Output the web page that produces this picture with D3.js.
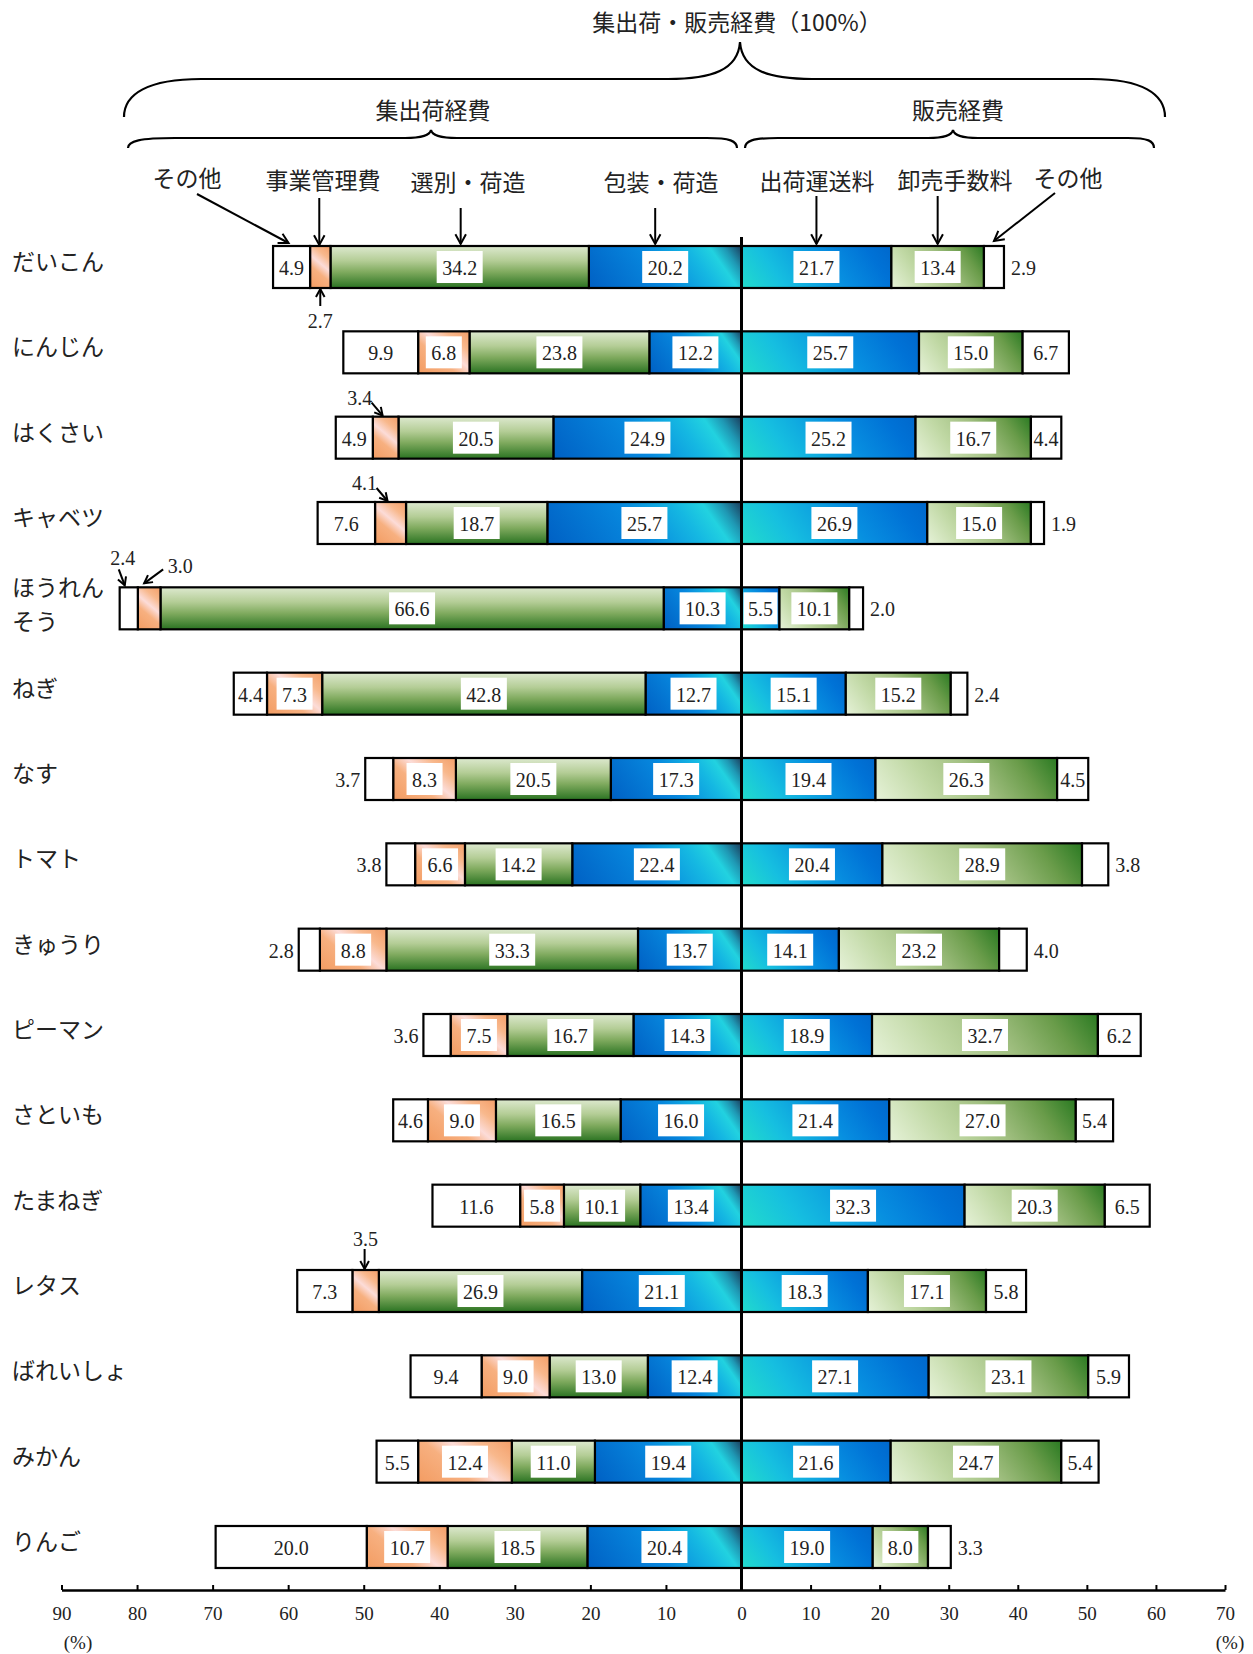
<!DOCTYPE html>
<html><head><meta charset="utf-8">
<script src="https://cdn.jsdelivr.net/npm/d3@7"></script>
<style>
body{margin:0;background:#fff}
svg{display:block}
</style></head><body>
<svg id="c" width="1253" height="1654"></svg>
<script>
// ---------------- data ----------------
const categories = ["だいこん","にんじん","はくさい","キャベツ","ほうれんそう","ねぎ","なす","トマト","きゅうり","ピーマン","さといも","たまねぎ","レタス","ばれいしょ","みかん","りんご"];
const categoryLines = {"ほうれんそう":["ほうれん","そう"]};
// 集出荷経費 (left side)
const leftOther  = [4.9,9.9,4.9,7.6,2.4,4.4,3.7,3.8,2.8,3.6,4.6,11.6,7.3,9.4,5.5,20.0];
const management = [2.7,6.8,3.4,4.1,3.0,7.3,8.3,6.6,8.8,7.5,9.0,5.8,3.5,9.0,12.4,10.7];
const sorting    = [34.2,23.8,20.5,18.7,66.6,42.8,20.5,14.2,33.3,16.7,16.5,10.1,26.9,13.0,11.0,18.5];
const packing    = [20.2,12.2,24.9,25.7,10.3,12.7,17.3,22.4,13.7,14.3,16.0,13.4,21.1,12.4,19.4,20.4];
// 販売経費 (right side)
const transport  = [21.7,25.7,25.2,26.9,5.5,15.1,19.4,20.4,14.1,18.9,21.4,32.3,18.3,27.1,21.6,19.0];
const commission = [13.4,15.0,16.7,15.0,10.1,15.2,26.3,28.9,23.2,32.7,27.0,20.3,17.1,23.1,24.7,8.0];
const rightOther = [2.9,6.7,4.4,1.9,2.0,2.4,4.5,3.8,4.0,6.2,5.4,6.5,5.8,5.9,5.4,3.3];

const leftTicks  = [0,10,20,30,40,50,60,70,80,90];
const rightTicks = [10,20,30,40,50,60,70];
const seriesNames = ["その他","事業管理費","選別・荷造","包装・荷造","出荷運送料","卸売手数料","その他"];
const groupNames = ["集出荷経費","販売経費"];
const titleText = "集出荷・販売経費（100%）";
const unitText = "(%)";

// where small values are labelled outside their segment
const labelPlacement = {
  "だいこん|1":"below", "だいこん|6":"right",
  "はくさい|1":"aboveLeft",
  "キャベツ|1":"aboveLeft", "キャベツ|6":"right",
  "ほうれんそう|0":"aboveTip", "ほうれんそう|1":"aboveRight", "ほうれんそう|6":"right",
  "ねぎ|6":"right",
  "なす|0":"left",
  "トマト|0":"left", "トマト|6":"right",
  "きゅうり|0":"left", "きゅうり|6":"right",
  "ピーマン|0":"left",
  "レタス|1":"above",
  "りんご|6":"right"
};

// ---------------- layout ----------------
const JP = "'Noto Sans CJK JP','Noto Sans CJK SC',sans-serif";
const NUM = "'Liberation Serif','DejaVu Serif',serif";
const svg = d3.select("#c");
const defs = svg.append("defs");

const zeroX = 741.5;
const xL = d3.scaleLinear().domain([0,90]).range([zeroX, 61.5]);
const xR = d3.scaleLinear().domain([0,70]).range([zeroX, 1225]);
const y = d3.scalePoint().domain(categories).range([267, 1547]);
const barH = 42;
const axisY = 1590;
const fmt = d3.format(".1f");

const seriesData = [leftOther, management, sorting, packing, transport, commission, rightOther];

// build segments
const segments = [];
categories.forEach((cat, i) => {
  const cy = y(cat), top = cy - barH/2;
  let acc = 0;
  [3,2,1,0].forEach(k => {
    const v = seriesData[k][i];
    const x0 = xL(acc + v), x1 = xL(acc);
    segments.push({cat, i, k, v, x: x0, w: x1 - x0, y: top, h: barH, cx: (x0+x1)/2, cy});
    acc += v;
  });
  acc = 0;
  [4,5,6].forEach(k => {
    const v = seriesData[k][i];
    const x0 = xR(acc), x1 = xR(acc + v);
    segments.push({cat, i, k, v, x: x0, w: x1 - x0, y: top, h: barH, cx: (x0+x1)/2, cy});
    acc += v;
  });
});

// gradients
const gradStops = {
  1: [[0,"#f39c62"],[0.38,"#f7b080"],[0.56,"#fcdcd8"],[0.76,"#f8b88c"],[1,"#f39e68"]],
  2: [[0,"#dde9cf"],[0.35,"#b4cd96"],[0.62,"#7faa5e"],[1,"#2a7322"]],
  3: [[0,"#0060c4"],[0.45,"#0788de"],[0.7,"#15b8e2"],[0.82,"#22d2e0"],[0.9,"#1f98b4"],[1,"#1b3a5a"]],
  4: [[0,"#22dccb"],[0.25,"#16bfe0"],[0.6,"#078ee0"],[0.85,"#0072d6"],[1,"#0068cc"]],
  5: [[0,"#e6f2d8"],[0.3,"#c0d8a4"],[0.55,"#a2c082"],[0.8,"#6a9c4a"],[1,"#2a7a22"]]
};
function makeGrad(id, s) {
  const g = defs.append("linearGradient").attr("id", id).attr("gradientUnits","userSpaceOnUse");
  if (s.k === 2) {
    g.attr("x1", s.x).attr("y1", s.y).attr("x2", s.x).attr("y2", s.y + s.h);
  } else {
    const th = (s.k === 1 ? 50 : 35) * Math.PI/180, c = Math.cos(th), sn = Math.sin(th);
    const L = s.w*c + s.h*sn;
    g.attr("x1", s.x).attr("y1", s.y + s.h).attr("x2", s.x + L*c).attr("y2", s.y + s.h - L*sn);
  }
  gradStops[s.k].forEach(([o,col]) => g.append("stop").attr("offset", o).attr("stop-color", col));
}

const gBars = svg.append("g");
segments.forEach((s, j) => {
  let fill = "#fff";
  if (s.k >= 1 && s.k <= 5) { const id = "gr" + j; makeGrad(id, s); fill = `url(#${id})`; }
  gBars.append("rect")
    .attr("x", s.x).attr("y", s.y).attr("width", s.w).attr("height", s.h)
    .attr("fill", fill).attr("stroke", "#000").attr("stroke-width", 2.2);
});

// centre line
svg.append("line").attr("x1", zeroX).attr("x2", zeroX).attr("y1", 237).attr("y2", axisY)
  .attr("stroke", "#000").attr("stroke-width", 3);

// arrows
function arrow(g, x0, y0, x1, y1, size = 9) {
  g.append("line").attr("x1", x0).attr("y1", y0).attr("x2", x1).attr("y2", y1)
    .attr("stroke", "#000").attr("stroke-width", 2);
  const a = Math.atan2(y1 - y0, x1 - x0), sp = 0.5;
  const p1 = [x1 - size*Math.cos(a - sp), y1 - size*Math.sin(a - sp)];
  const p2 = [x1 - size*Math.cos(a + sp), y1 - size*Math.sin(a + sp)];
  g.append("path").attr("d", `M${p1[0]},${p1[1]}L${x1},${y1}L${p2[0]},${p2[1]}`)
    .attr("fill", "none").attr("stroke", "#000").attr("stroke-width", 2);
}

// value labels
const gLab = svg.append("g");
function numText(x, yy, txt, anchor = "middle") {
  return gLab.append("text").attr("x", x).attr("y", yy).attr("text-anchor", anchor)
    .attr("dominant-baseline", "central")
    .attr("font-family", NUM).attr("font-size", 20).attr("fill", "#222").text(txt);
}
segments.forEach(s => {
  const mode = labelPlacement[s.cat + "|" + s.k] || "inside";
  const txt = fmt(s.v);
  const top = s.y, bot = s.y + s.h;
  if (mode === "inside") {
    if (s.k !== 0 && s.k !== 6) {
      const t = numText(s.cx, s.cy + 1, txt);
      const tw = t.node().getComputedTextLength();
      const bw = Math.min(tw + 11, s.w - 4);
      gLab.insert("rect", () => t.node()).attr("x", s.cx - bw/2).attr("y", s.cy - 16)
        .attr("width", bw).attr("height", 32).attr("fill", "#fff");
    } else {
      numText(s.cx, s.cy + 1, txt);
    }
  } else if (mode === "right") {
    numText(s.x + s.w + 7, s.cy + 1, txt, "start");
  } else if (mode === "left") {
    numText(s.x - 5, s.cy + 1, txt, "end");
  } else if (mode === "below") {
    arrow(gLab, s.cx, bot + 18, s.cx, bot + 1);
    numText(s.cx, bot + 33, txt);
  } else if (mode === "aboveLeft") {
    arrow(gLab, s.cx - 14, top - 14, s.cx - 3, top - 1);
    numText(s.cx - 26, top - 19, txt);
  } else if (mode === "aboveTip") {
    arrow(gLab, s.cx - 10, top - 18, s.cx - 4, top - 2);
    numText(s.cx - 6, top - 29, txt);
  } else if (mode === "aboveRight") {
    arrow(gLab, s.cx + 14, top - 18, s.cx - 5, top - 4);
    numText(s.cx + 31, top - 21, txt);
  } else if (mode === "above") {
    arrow(gLab, s.cx - 1, top - 21, s.cx - 1, top - 1);
    numText(s.cx, top - 31, txt);
  }
});

// category labels
const gCat = svg.append("g");
categories.forEach(cat => {
  const cy = y(cat);
  const lines = categoryLines[cat];
  if (lines) {
    gCat.append("text").attr("x", 12).attr("y", cy - 22).attr("dominant-baseline","central")
      .attr("font-family", JP).attr("font-size", 23).attr("fill", "#222").text(lines[0]);
    gCat.append("text").attr("x", 12).attr("y", cy + 12).attr("dominant-baseline","central")
      .attr("font-family", JP).attr("font-size", 23).attr("fill", "#222").text(lines[1]);
  } else {
    gCat.append("text").attr("x", 12).attr("y", cy - 7).attr("dominant-baseline","central")
      .attr("font-family", JP).attr("font-size", 23).attr("fill", "#222").text(cat);
  }
});

// ---------------- header ----------------
const gH = svg.append("g");
function jpText(x, yy, txt, size = 23) {
  return gH.append("text").attr("x", x).attr("y", yy).attr("text-anchor","middle")
    .attr("dominant-baseline","central").attr("font-family", JP).attr("font-size", size)
    .attr("fill", "#222").text(txt);
}
jpText(737, 21, titleText);
jpText(433, 109, groupNames[0]);
jpText(958, 109, groupNames[1]);

const braces = [
  "M124,117 C124,94 148,79 201,79 L668,79 C712,79 738,70 740,42 C742,70 768,79 812,79 L1092,79 C1142,79 1165,94 1165,117",
  "M128,148 C128,141 140,138 175,138 L405,138 C422,138 430,135 431,130 C432,135 440,138 457,138 L707,138 C730,138 737,141 737,148",
  "M745,148 C745,141 752,138 778,138 L928,138 C945,138 952,135 953,130 C954,135 961,138 978,138 L1128,138 C1148,138 1154,141 1154,148"
];
braces.forEach(d => gH.append("path").attr("d", d).attr("fill","none").attr("stroke","#000").attr("stroke-width", 2.2));

// series labels with arrows to the first row
const first = segments.filter(s => s.i === 0);
const segOf = k => first.find(s => s.k === k);
const headerLabels = [
  {k:0, x:187, y:177},
  {k:1, x:323, y:179},
  {k:2, x:468, y:181},
  {k:3, x:661, y:181},
  {k:4, x:817, y:180},
  {k:5, x:955, y:179},
  {k:6, x:1068, y:177}
];
headerLabels.forEach(h => jpText(h.x, h.y, seriesNames[h.k]));
const t0 = segOf(0).y;
arrow(gH, 197, 194, segOf(0).cx - 3, t0 - 3, 11);
arrow(gH, segOf(1).cx - 1, 198, segOf(1).cx - 1, t0 - 1, 11);
arrow(gH, segOf(2).cx + 1, 208, segOf(2).cx + 1, t0 - 2, 11);
arrow(gH, segOf(3).cx - 10, 208, segOf(3).cx - 10, t0 - 2, 11);
arrow(gH, segOf(4).cx, 196, segOf(4).cx, t0 - 2, 11);
arrow(gH, segOf(5).cx, 196, segOf(5).cx, t0 - 2, 11);
arrow(gH, 1055, 193, segOf(6).cx, t0 - 5, 11);

// ---------------- axes ----------------
function styleAxis(g) {
  g.attr("font-family", null).attr("font-size", null);
  g.select(".domain").attr("stroke", "#000").attr("stroke-width", 2.5);
  g.selectAll(".tick line").attr("stroke", "#000").attr("stroke-width", 2);
  g.selectAll(".tick text").attr("font-family", NUM).attr("font-size", 19).attr("fill", "#222");
}
const axL = d3.axisBottom(xL).tickValues(leftTicks).tickSizeInner(-5).tickSizeOuter(0)
  .tickPadding(17).tickFormat(d3.format("d"));
const axR = d3.axisBottom(xR).tickValues(rightTicks).tickSizeInner(-5).tickSizeOuter(0)
  .tickPadding(17).tickFormat(d3.format("d"));
svg.append("g").attr("transform", `translate(0,${axisY})`).call(axL).call(styleAxis);
svg.append("g").attr("transform", `translate(0,${axisY})`).call(axR).call(styleAxis);

svg.append("text").attr("x", 78).attr("y", 1642).attr("text-anchor","middle").attr("dominant-baseline","central")
  .attr("font-family", NUM).attr("font-size", 19).attr("fill", "#222").text(unitText);
svg.append("text").attr("x", 1230).attr("y", 1642).attr("text-anchor","middle").attr("dominant-baseline","central")
  .attr("font-family", NUM).attr("font-size", 19).attr("fill", "#222").text(unitText);
</script>
</body></html>
